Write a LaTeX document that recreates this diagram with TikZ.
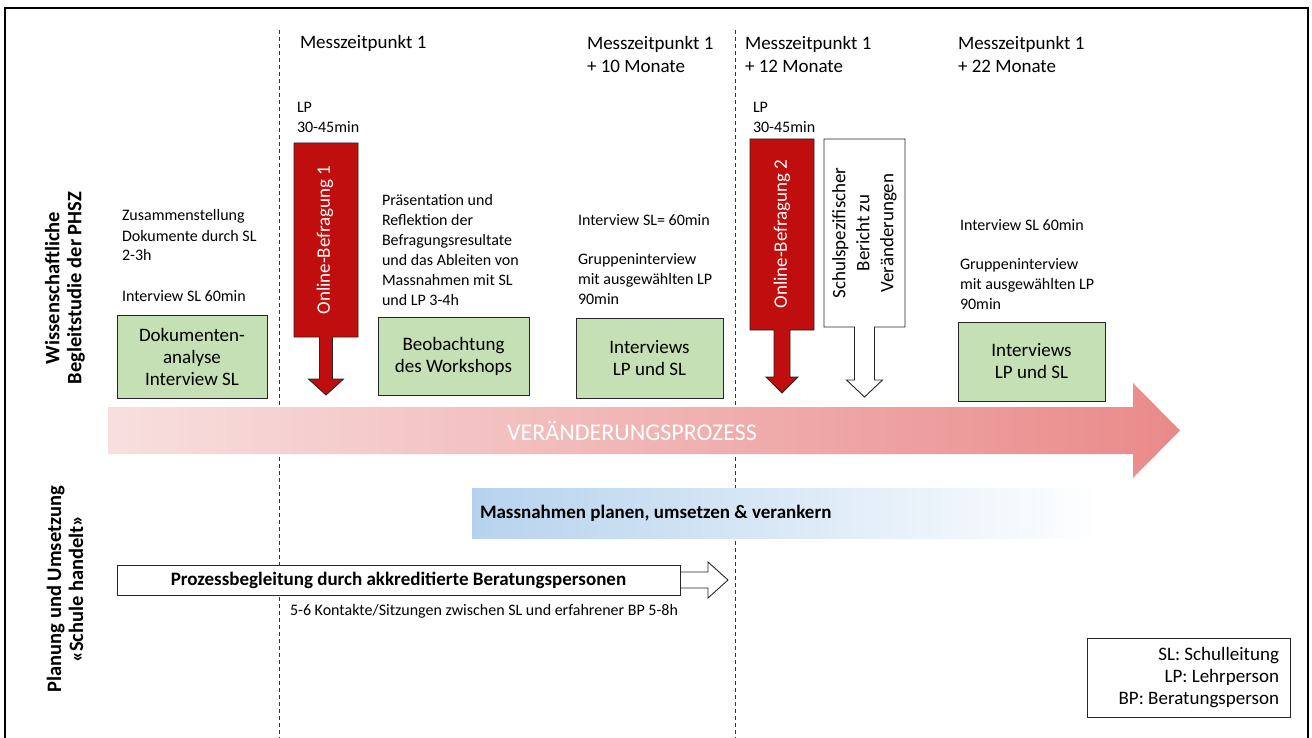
\documentclass[tikz,border=0pt]{standalone}
\usepackage{fontspec}
\setmainfont{Carlito}
\definecolor{gfill}{HTML}{C5E0B4}
\definecolor{rfill}{HTML}{C00D0D}
\definecolor{pinkL}{HTML}{F8DFDF}
\definecolor{pinkR}{HTML}{EA8A8A}
\definecolor{blueL}{HTML}{B6D3EE}
\begin{document}
\begin{tikzpicture}[x=1pt,y=-1pt,
  every node/.style={inner sep=0pt,outer sep=0pt},
  txt/.style={font=\fontsize{16}{20}\selectfont,align=left,anchor=west},
  mzp/.style={font=\fontsize{19}{23}\selectfont,align=left,anchor=west},
  gbox/.style={draw=black!85,fill=gfill,line width=0.9pt,font=\fontsize{19}{22}\selectfont,align=center},
  side/.style={font=\fontsize{20.5}{22}\selectfont\bfseries,rotate=90,align=center},
  vline/.style={draw=black!80,line width=0.8pt,dash pattern=on 4pt off 3pt},
  arr/.style={draw=black!85,line width=0.9pt},
  rtxt/.style={font=\fontsize{19}{24}\selectfont,rotate=90,align=center},
]
\useasboundingbox (0,0) rectangle (1312,738);
\fill[white] (0,0) rectangle (1312,738);
\draw[line width=1.2pt] (5,745) -- (5,8) -- (1308,8) -- (1308,745);

% dashed time lines
\coordinate (d1t) at (279,30); \coordinate (d1b) at (279,740);
\coordinate (d2t) at (735,30); \coordinate (d2b) at (735,740);
\draw[vline] (d1t) -- (d1b);
\draw[vline] (d2t) -- (d2b);

% side labels
\node[side] (s1) at (65,288) {Wissenschaftliche\\Begleitstudie der PHSZ};
\node[side] (s2) at (65,589) {Planung und Umsetzung\\«Schule handelt»};

% headings
\node[mzp] (m1) at (300,43) {Messzeitpunkt 1};
\node[mzp] (m2) at (587,54.5) {Messzeitpunkt 1\\+ 10 Monate};
\node[mzp] (m3) at (745,54.5) {Messzeitpunkt 1\\+ 12 Monate};
\node[mzp] (m4) at (958,54.5) {Messzeitpunkt 1\\+ 22 Monate};

% column 1
\node[txt] (c1a) at (122,235.5) {Zusammenstellung\\Dokumente durch SL\\2-3h};
\node[txt] (c1b) at (122,296) {Interview SL 60min};
\node[gbox,minimum width=150pt,minimum height=83pt] (b1) at (192,356.5) {Dokumenten-\\analyse\\Interview SL};

% online survey 1
\node[txt] (lp1) at (297,117.5) {LP\\30-45min};
\draw[arr,fill=rfill] (294,143) -- (358,143) -- (358,337) -- (332.5,337) -- (332.5,379) -- (343.5,379) -- (326,395) -- (308.5,379) -- (319.5,379) -- (319.5,337) -- (294,337) -- cycle;
\node[rtxt,text=white] (ob1) at (325,240) {Online-Befragung 1};

% column 2
\node[txt] (c2a) at (382,250) {Präsentation und\\Reflektion der\\Befragungsresultate\\und das Ableiten von\\Massnahmen mit SL\\und LP 3-4h};
\node[gbox,minimum width=151pt,minimum height=78pt] (b2) at (453.5,356) {Beobachtung\\des Workshops};

% column 3
\node[txt] (c3a) at (578,220) {Interview SL= 60min};
\node[txt] (c3b) at (578,279.5) {Gruppeninterview\\mit ausgewählten LP\\90min};
\node[gbox,minimum width=147pt,minimum height=80pt] (b3) at (649.5,358) {Interviews\\LP und SL};

% online survey 2 and report
\node[txt] (lp2) at (753,117.5) {LP\\30-45min};
\draw[arr,fill=rfill] (750,139) -- (814,139) -- (814,330) -- (790,330) -- (790,377) -- (798,377) -- (782,393) -- (766,377) -- (774,377) -- (774,330) -- (750,330) -- cycle;
\node[rtxt,text=white] (ob2) at (782,234) {Online-Befragung 2};
\draw[arr,fill=white] (824,139) -- (905,139) -- (905,327) -- (874.5,327) -- (874.5,380) -- (882.5,380) -- (864.5,397) -- (846.5,380) -- (854.5,380) -- (854.5,327) -- (824,327) -- cycle;
\node[rtxt] (ber) at (864.5,233) {Schulspezifischer\\Bericht zu\\Veränderungen};

% column 5
\node[txt] (c5a) at (960,225) {Interview SL 60min};
\node[txt] (c5b) at (960,284.5) {Gruppeninterview\\mit ausgewählten LP\\90min};
\node[gbox,minimum width=147pt,minimum height=79pt] (b5) at (1031.5,361.5) {Interviews\\LP und SL};

% big process arrow
\shade[left color=pinkL,right color=pinkR] (108,407) -- (1133,407) -- (1133,383) -- (1180,430.5) -- (1133,478) -- (1133,454) -- (108,454) -- cycle;
\node[font=\fontsize{24}{28}\selectfont,text=white] (vp) at (632,431) {VERÄNDERUNGSPROZESS};

% measures bar
\shade[left color=blueL,right color=white] (472,488) rectangle (1100,538);
\node[font=\fontsize{19}{22}\selectfont\bfseries,anchor=west] (mn) at (480,513) {Massnahmen planen, umsetzen \& verankern};

% process support arrow
\draw[arr,fill=white] (600,572) -- (708,572) -- (708,562) -- (728,580) -- (708,598) -- (708,588) -- (600,588) -- cycle;
\node[draw=black!85,line width=0.9pt,fill=white,minimum width=563pt,minimum height=30pt,font=\fontsize{19}{22}\selectfont\bfseries] (pb) at (398.5,580) {Prozessbegleitung durch akkreditierte Beratungspersonen};
\node[font=\fontsize{16}{19}\selectfont,anchor=west] (kt) at (290,611) {5-6 Kontakte/Sitzungen zwischen SL und erfahrener BP 5-8h};

% legend
\node[draw=black!85,line width=0.9pt,minimum width=203pt,minimum height=79pt] (leg) at (1188.5,677.5) {};
\node[font=\fontsize{19}{22}\selectfont,align=right,anchor=east] (legt) at (1279,678) {SL: Schulleitung\\LP: Lehrperson\\BP: Beratungsperson};
\end{tikzpicture}
\end{document}
